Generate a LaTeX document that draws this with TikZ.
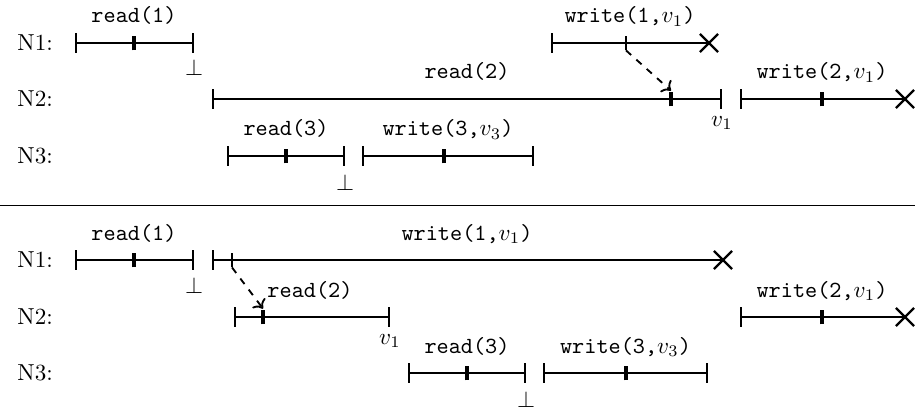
\documentclass[tikz,border=0pt]{standalone}
\usetikzlibrary{arrows.meta,shapes.misc}
\tikzset{
  ivl/.style={line width=0.95pt,{Bar[width=8.6pt]}-{Bar[width=8.6pt]}},
  ivlx/.style={line width=0.95pt,{Bar[width=8.6pt]}-},
  xend/.style={cross out,draw,line width=0.95pt,minimum size=6.9pt,inner sep=0pt},
  midtick/.style={line width=1.5pt},
  sendtick/.style={line width=0.95pt},
  msg/.style={dashed,line width=0.8pt,->},
  oplabel/.style={anchor=base,font=\ttfamily,inner sep=0pt},
  rowlabel/.style={anchor=west,inner sep=0pt},
  botlabel/.style={anchor=base,inner sep=0pt},
  sep/.style={line width=0.4pt}
}
\begin{document}
\begin{tikzpicture}[x=0.4323pt,y=-0.4323pt]
\useasboundingbox (0,0) rectangle (915,412);
% ---------------- top panel ----------------
\node[rowlabel] (tN1) at (17,43) {N1:};
\node[rowlabel] (tN2) at (17,99) {N2:};
\node[rowlabel] (tN3) at (17,156) {N3:};
% N1
\coordinate (tr1a) at (75,43); \coordinate (tr1m) at (134,43); \coordinate (tr1b) at (194,43);
\coordinate (tw1a) at (551,43); \coordinate (tw1m) at (626,43); \coordinate (tw1b) at (709,43);
% N2
\coordinate (tr2a) at (212,99); \coordinate (tr2m) at (671,99); \coordinate (tr2b) at (722,99);
\coordinate (tw2a) at (740,99); \coordinate (tw2m) at (822,99); \coordinate (tw2b) at (905,99);
% N3
\coordinate (tr3a) at (227,156); \coordinate (tr3m) at (286,156); \coordinate (tr3b) at (345,156);
\coordinate (tw3a) at (362,156); \coordinate (tw3m) at (444,156); \coordinate (tw3b) at (534,156);

\draw[ivl] (tr1a) -- (tr1b);
\draw[midtick] ([yshift=-3.2pt]tr1m) -- ([yshift=3.2pt]tr1m);
\node[oplabel] (tlr1) at (134,23) {read(1)};
\node[botlabel] (tbot1) at (194,76) {$\bot$};

\draw[ivlx] (tw1a) -- (tw1b);
\node[xend] (tx1) at (tw1b) {};
\draw[sendtick] ([yshift=-3.2pt]tw1m) -- ([yshift=3.2pt]tw1m);
\node[oplabel] (tlw1) at (630,23) {write(1,$v_1$)};

\draw[ivl] (tr2a) -- (tr2b);
\draw[midtick] ([yshift=-3.2pt]tr2m) -- ([yshift=3.2pt]tr2m);
\node[oplabel] (tlr2) at (467,79) {read(2)};
\node[botlabel] (tv1) at (722,126) {$v_1$};

\draw[ivlx] (tw2a) -- (tw2b);
\node[xend] (tx2) at (tw2b) {};
\draw[midtick] ([yshift=-3.2pt]tw2m) -- ([yshift=3.2pt]tw2m);
\node[oplabel] (tlw2) at (822,79) {write(2,$v_1$)};

\draw[ivl] (tr3a) -- (tr3b);
\draw[midtick] ([yshift=-3.2pt]tr3m) -- ([yshift=3.2pt]tr3m);
\node[oplabel] (tlr3) at (286,136) {read(3)};
\node[botlabel] (tbot3) at (345,190) {$\bot$};

\draw[ivl] (tw3a) -- (tw3b);
\draw[midtick] ([yshift=-3.2pt]tw3m) -- ([yshift=3.2pt]tw3m);
\node[oplabel] (tlw3) at (448,136) {write(3,$v_3$)};

\draw[msg] ([yshift=-3.2pt]tw1m) -- ([yshift=3.6pt]tr2m);

% ---------------- separator ----------------
\coordinate (sepL) at (0,205.5); \coordinate (sepR) at (915,205.5);
\draw[sep] (sepL) -- (sepR);

% ---------------- bottom panel ----------------
\node[rowlabel] (bN1) at (17,260) {N1:};
\node[rowlabel] (bN2) at (17,317) {N2:};
\node[rowlabel] (bN3) at (17,373) {N3:};
\coordinate (br1a) at (75,260); \coordinate (br1m) at (134,260); \coordinate (br1b) at (194,260);
\coordinate (bw1a) at (212,260); \coordinate (bw1m) at (232,260); \coordinate (bw1b) at (723,260);
\coordinate (br2a) at (234,317); \coordinate (br2m) at (263,317); \coordinate (br2b) at (390,317);
\coordinate (bw2a) at (740,317); \coordinate (bw2m) at (822,317); \coordinate (bw2b) at (905,317);
\coordinate (br3a) at (408,373); \coordinate (br3m) at (467,373); \coordinate (br3b) at (526,373);
\coordinate (bw3a) at (543,373); \coordinate (bw3m) at (626,373); \coordinate (bw3b) at (708,373);

\draw[ivl] (br1a) -- (br1b);
\draw[midtick] ([yshift=-3.2pt]br1m) -- ([yshift=3.2pt]br1m);
\node[oplabel] (blr1) at (134,240) {read(1)};
\node[botlabel] (bbot1) at (194,293) {$\bot$};

\draw[ivlx] (bw1a) -- (bw1b);
\node[xend] (bx1) at (bw1b) {};
\draw[sendtick] ([yshift=-3.2pt]bw1m) -- ([yshift=3.2pt]bw1m);
\node[oplabel] (blw1) at (467,240) {write(1,$v_1$)};

\draw[ivl] (br2a) -- (br2b);
\draw[midtick] ([yshift=-3.2pt]br2m) -- ([yshift=3.2pt]br2m);
\node[oplabel] (blr2) at (310,297) {read(2)};
\node[botlabel] (bv1) at (390,344) {$v_1$};

\draw[ivlx] (bw2a) -- (bw2b);
\node[xend] (bx2) at (bw2b) {};
\draw[midtick] ([yshift=-3.2pt]bw2m) -- ([yshift=3.2pt]bw2m);
\node[oplabel] (blw2) at (822,297) {write(2,$v_1$)};

\draw[ivl] (br3a) -- (br3b);
\draw[midtick] ([yshift=-3.2pt]br3m) -- ([yshift=3.2pt]br3m);
\node[oplabel] (blr3) at (467,353) {read(3)};
\node[botlabel] (bbot3) at (526,407) {$\bot$};

\draw[ivl] (bw3a) -- (bw3b);
\draw[midtick] ([yshift=-3.2pt]bw3m) -- ([yshift=3.2pt]bw3m);
\node[oplabel] (blw3) at (625.5,353) {write(3,$v_3$)};

\draw[msg] ([yshift=-3.2pt]bw1m) -- ([yshift=3.6pt]br2m);
\end{tikzpicture}
\end{document}
